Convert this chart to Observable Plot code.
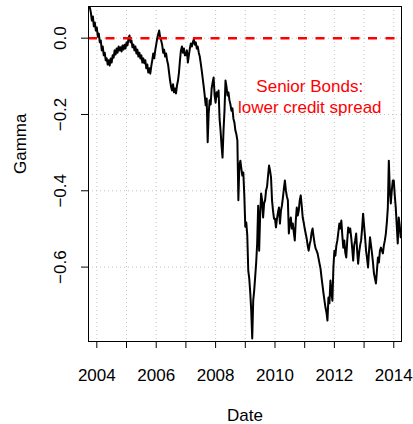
<!DOCTYPE html>
<html><head><meta charset="utf-8">
<script src="https://cdn.jsdelivr.net/npm/d3@7"></script>
<script src="https://cdn.jsdelivr.net/npm/@observablehq/plot@0.6"></script>
<style>html,body{margin:0;padding:0;background:#fff} svg{display:block}</style>
</head><body><div id="chart"></div>
<script>
const samplesPerYear = 30;
const gamma2003 = [0.080, 0.067, 0.046, 0.057, 0.031, 0.041, 0.020];
const gamma2004 = [0.028, 0.004, 0.012, -0.011, -0.006, -0.032, -0.022, -0.045, -0.038, -0.058, -0.053, -0.069, -0.058, -0.072, -0.053, -0.064, -0.045, -0.051, -0.032, -0.043, -0.027, -0.038, -0.022, -0.032, -0.024, -0.035, -0.019, -0.030, -0.017, -0.027];
const gamma2005 = [-0.011, -0.019, -0.001, 0.007, -0.011, -0.006, -0.024, -0.017, -0.032, -0.022, -0.040, -0.030, -0.048, -0.038, -0.053, -0.045, -0.064, -0.053, -0.066, -0.058, -0.079, -0.069, -0.090, -0.079, -0.093, -0.074, -0.058, -0.040, -0.053, -0.032];
const gamma2006 = [-0.017, -0.001, 0.010, 0.020, 0.002, -0.006, -0.017, -0.038, -0.030, -0.048, -0.040, -0.058, -0.069, -0.090, -0.111, -0.127, -0.137, -0.121, -0.142, -0.132, -0.145, -0.124, -0.111, -0.090, -0.058, -0.032, -0.022, -0.038, -0.027, -0.045];
const gamma2007 = [-0.045, -0.032, -0.064, -0.045, -0.027, -0.014, -0.022, -0.011, -0.003, -0.017, -0.011, -0.027, -0.022, -0.038, -0.048, -0.066, -0.085, -0.106, -0.127, -0.150, -0.176, -0.158, -0.273, -0.197, -0.163, -0.174, -0.132, -0.116, -0.103, -0.150];
const gamma2008 = [-0.169, -0.142, -0.153, -0.137, -0.211, -0.242, -0.281, -0.313, -0.242, -0.190, -0.111, -0.127, -0.150, -0.142, -0.163, -0.174, -0.190, -0.184, -0.211, -0.221, -0.242, -0.252, -0.268, -0.425, -0.334, -0.321, -0.342, -0.360, -0.352, -0.412];
const gamma2009 = [-0.494, -0.483, -0.517, -0.609, -0.630, -0.667, -0.714, -0.787, -0.688, -0.661, -0.625, -0.588, -0.538, -0.439, -0.557, -0.465, -0.407, -0.425, -0.470, -0.433, -0.425, -0.399, -0.389, -0.360, -0.334, -0.347, -0.365, -0.425, -0.452, -0.473];
const gamma2010 = [-0.473, -0.496, -0.473, -0.457, -0.444, -0.486, -0.452, -0.439, -0.418, -0.394, -0.373, -0.399, -0.415, -0.425, -0.512, -0.483, -0.470, -0.499, -0.486, -0.509, -0.530, -0.478, -0.444, -0.465, -0.452, -0.425, -0.412, -0.439, -0.470, -0.483];
const gamma2011 = [-0.499, -0.512, -0.525, -0.543, -0.557, -0.541, -0.530, -0.509, -0.499, -0.520, -0.538, -0.551, -0.557, -0.564, -0.577, -0.591, -0.604, -0.627, -0.648, -0.669, -0.688, -0.706, -0.719, -0.740, -0.680, -0.695, -0.635, -0.667, -0.688, -0.601];
const gamma2012 = [-0.557, -0.570, -0.543, -0.530, -0.509, -0.486, -0.499, -0.478, -0.517, -0.549, -0.530, -0.562, -0.575, -0.530, -0.496, -0.509, -0.499, -0.522, -0.551, -0.583, -0.543, -0.530, -0.512, -0.557, -0.591, -0.562, -0.543, -0.530, -0.499, -0.460];
const gamma2013 = [-0.491, -0.522, -0.557, -0.577, -0.601, -0.557, -0.522, -0.543, -0.564, -0.588, -0.617, -0.630, -0.643, -0.609, -0.575, -0.588, -0.557, -0.549, -0.557, -0.564, -0.543, -0.530, -0.512, -0.483, -0.444, -0.321, -0.399, -0.433, -0.399, -0.373];
const gamma2014 = [-0.373, -0.412, -0.444, -0.491, -0.538, -0.470, -0.491, -0.522];

const yearSeries = [
  {year: 2003, first: 23, values: gamma2003},
  {year: 2004, first: 0, values: gamma2004},
  {year: 2005, first: 0, values: gamma2005},
  {year: 2006, first: 0, values: gamma2006},
  {year: 2007, first: 0, values: gamma2007},
  {year: 2008, first: 0, values: gamma2008},
  {year: 2009, first: 0, values: gamma2009},
  {year: 2010, first: 0, values: gamma2010},
  {year: 2011, first: 0, values: gamma2011},
  {year: 2012, first: 0, values: gamma2012},
  {year: 2013, first: 0, values: gamma2013},
  {year: 2014, first: 0, values: gamma2014}
];

const xTicks = [2004, 2005, 2006, 2007, 2008, 2009, 2010, 2011, 2012, 2013, 2014];
const xTickLabels = [2004, 2006, 2008, 2010, 2012, 2014];
const yTicks = [0, -0.2, -0.4, -0.6];
const xDomain = [2003.72, 2014.26];
const yDomain = [-0.795, 0.083];
const annotation = [{date: 2011.17, gamma: -0.152, label: "Senior Bonds:\nlower credit spread"}];

const rows = yearSeries.flatMap(({year, first, values}) =>
  values.map((g, i) => ({date: year + (first + i) / samplesPerYear, gamma: g})));

const fmtY = d3.format(".1f");

const chart = Plot.plot({
  width: 413,
  height: 424,
  marginLeft: 88,
  marginRight: 12,
  marginTop: 6,
  marginBottom: 83,
  style: {fontFamily: "'Liberation Sans', Arial, Helvetica, sans-serif", background: "white", color: "black"},
  x: {domain: xDomain, label: null},
  y: {domain: yDomain, label: null},
  marks: [
    Plot.gridX(xTicks, {stroke: "#c4c4c4", strokeOpacity: 1, strokeDasharray: "1,3"}),
    Plot.gridY(yTicks, {stroke: "#c4c4c4", strokeOpacity: 1, strokeDasharray: "1,3"}),
    Plot.line(rows, {x: "date", y: "gamma", stroke: "black", strokeWidth: 2, clip: true}),
    Plot.ruleY([0], {stroke: "#ff0000", strokeWidth: 2.5, strokeDasharray: "9,8.5"}),
    Plot.text(annotation, {x: "date", y: "gamma", text: "label", fill: "#ff0000", fontSize: 17, lineHeight: 1.235}),
    Plot.frame({stroke: "black", strokeWidth: 1}),
    Plot.axisX(xTicks, {tickSize: 7, tickPadding: 20, fontSize: 17, stroke: "black", label: null,
      tickFormat: d => xTickLabels.includes(d) ? String(d) : ""}),
    Plot.axisY(yTicks, {tickSize: 7, tickPadding: 16, tickRotate: -90, fontSize: 17, stroke: "black", label: null,
      tickFormat: d => fmtY(d)}),
    Plot.text(["Gamma"], {frameAnchor: "left", dx: -63, rotate: -90, lineAnchor: "bottom", fontSize: 17}),
    Plot.text(["Date"], {frameAnchor: "bottom", dy: 79, lineAnchor: "bottom", fontSize: 17})
  ]
});
document.getElementById("chart").appendChild(chart);
</script>
</body></html>
